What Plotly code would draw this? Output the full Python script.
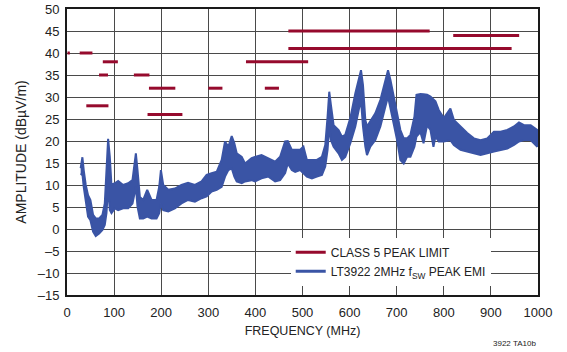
import plotly.graph_objects as go

# CLASS 5 peak limit segments (MHz, dBuV/m)
limit_start = [1, 27, 41, 68, 76, 142, 171, 174, 300, 380, 420, 470, 470, 820]
limit_stop = [6, 54, 88, 87, 108, 175, 245, 230, 330, 512, 450, 770, 944, 960]
limit_level = [40, 40, 28, 35, 38, 35, 26, 32, 32, 38, 32, 45, 41, 44]

# LT3922 peak EMI, read as upper / lower envelope of the noisy trace
emi_freq = [29, 32.7, 35.5, 39.8, 44.7, 49.7, 55.4, 61, 68.2, 75.2, 80.2, 83.8, 87.3, 90.9,
            94.4, 101.5, 108.6, 119.2, 129.9, 139, 142.6, 146.2, 149.7, 154.7, 161.8, 170.3,
            179.5, 190.1, 195.8, 199.4, 204.3, 215, 229, 243, 257, 271.6, 285.8, 296.5, 307,
            317.8, 328.4, 335.5, 342.6, 349.7, 355.3, 360.3, 371, 378, 392, 399, 413, 427.7,
            441.9, 452.5, 463.1, 468.8, 477.3, 484.4, 495, 502, 509.3, 520, 530.5, 541.2,
            548.3, 553.2, 556.8, 560.3, 566, 576.6, 583.7, 590.8, 601.5, 612.1, 619.2, 624.2,
            628.4, 633.4, 636.9, 644, 654.6, 665.3, 675.9, 681.6, 686.6, 693.7, 700.8, 707.8,
            714.9, 722, 729.1, 737.6, 742, 750.4, 757, 764.6, 771.7, 778, 782.3, 789.4, 800,
            814, 821.3, 835.5, 849.7, 863.9, 878, 892.2, 906.4, 920.6, 934.8, 949, 959.6,
            970.3, 984.4, 998.6]
emi_hi = [13.8, 16.3, 13.4, 10.0, 7.7, 6.6, 3.2, 2.4, 2.4, 3.2, 5.8, 13.4, 20.5, 16.4,
          10.0, 10.4, 10.9, 10.0, 10.4, 11.1, 14.9, 17.2, 13.4, 7.3, 6.6, 8.9,
          6.6, 6.6, 9.6, 13.4, 10.0, 8.9, 9.2, 10.0, 10.5, 10.0, 10.8, 12.3, 12.7,
          13.0, 15.7, 19.9, 18.7, 21.1, 19.5, 17.2, 16.4, 14.9, 16.1, 16.4, 16.8, 16.1,
          15.3, 16.4, 19.9, 20.0, 18.0, 18.0, 18.0, 18.7, 15.7, 15.7, 15.7, 16.4,
          19.1, 25.5, 31.2, 28.2, 23.6, 22.5, 21.0, 21.4, 25.2, 30.8, 34.2, 36.1,
          32.7, 24.8, 23.3, 24.4, 26.3, 29.3, 34.2, 36.1, 33.9, 30.1, 26.3, 22.5,
          20.6, 20.6, 21.4, 25.5, 30.5, 30.7, 30.6, 30.5, 30.1, 29.5, 29.0, 27.0, 25.2,
          27.4, 24.8, 23.3, 21.8, 20.6, 20.2, 20.6, 22.1, 22.1, 22.5, 23.3, 24.2,
          23.6, 23.6, 22.5]
emi_lo = [12.3, 12.6, 9.6, 6.2, 2.8, 2.0, -0.6, -1.6, -1.0, -0.2, 0.9, 3.6, 9.6, 4.3,
          3.6, 4.7, 4.3, 4.7, 4.7, 5.8, 7.3, 9.6, 5.1, 2.4, 2.4, 2.8,
          2.4, 2.4, 3.6, 5.8, 4.3, 4.0, 4.7, 5.8, 6.6, 6.2, 7.0, 7.4, 8.5,
          8.9, 9.6, 11.9, 13.4, 13.8, 11.9, 10.8, 10.4, 10.8, 11.1, 10.8, 11.5, 11.9,
          10.8, 11.1, 12.7, 14.9, 13.4, 13.0, 13.4, 12.7, 11.9, 11.5, 11.9, 12.3,
          14.2, 18.0, 23.3, 20.2, 18.7, 17.2, 15.7, 16.4, 19.5, 23.3, 27.0, 29.3,
          23.3, 18.7, 16.8, 18.7, 20.2, 23.3, 27.8, 30.1, 27.8, 24.0, 20.2, 15.7,
          14.9, 16.4, 16.4, 18.7, 21.0, 22.0, 19.5, 23.6, 22.5, 18.7, 21.0, 19.9, 19.9,
          20.2, 19.1, 18.0, 17.6, 17.2, 16.8, 17.2, 17.6, 18.0, 18.3, 19.1, 19.9,
          20.2, 20.2, 18.7]

x_ticks = [0, 100, 200, 300, 400, 500, 600, 700, 800, 900, 1000]
y_ticks = [50, 45, 40, 35, 30, 25, 20, 15, 10, 5, 0, -5, -10, -15]
y_tick_text = [str(v) if v >= 0 else "\u2013" + str(-v) for v in y_ticks]

RED = "#960a2d"
BLUE = "#3a54a5"
FONT = "Liberation Sans, Arial, sans-serif"

lim_x, lim_y = [], []
for a, b, lv in zip(limit_start, limit_stop, limit_level):
    lim_x += [a, b, None]
    lim_y += [lv, lv, None]

fig = go.Figure()
fig.add_trace(go.Scatter(
    x=emi_freq + emi_freq[::-1],
    y=emi_hi + emi_lo[::-1],
    fill="toself",
    fillcolor=BLUE,
    line=dict(color=BLUE, width=2),
    mode="lines",
    showlegend=False,
    hoverinfo="skip",
))
fig.add_trace(go.Scatter(
    x=lim_x, y=lim_y, mode="lines",
    line=dict(color=RED, width=3),
    name="CLASS 5 PEAK LIMIT",
))
# legend entry for the EMI trace
fig.add_trace(go.Scatter(
    x=[None], y=[None], mode="lines",
    line=dict(color=BLUE, width=3),
    name="LT3922 2MHz f<sub>SW</sub> PEAK EMI",
))

fig.update_xaxes(
    range=[0, 1000], tickvals=x_ticks, automargin=False,
    showgrid=True, gridcolor="#4a4a4a", gridwidth=1.3,
    showline=True, linecolor="#1a1a1a", linewidth=2, mirror=True,
    zeroline=False, ticks="", ticklabelstandoff=4,
    tickfont=dict(size=13),
    title=dict(text="FREQUENCY (MHz)", standoff=8, font=dict(size=12.5)),
)
fig.update_yaxes(
    range=[-15, 50], tickvals=y_ticks, ticktext=y_tick_text, automargin=False,
    showgrid=True, gridcolor="#4a4a4a", gridwidth=1.3,
    showline=True, linecolor="#1a1a1a", linewidth=2, mirror=True,
    zeroline=False, ticks="", ticklabelstandoff=3,
    tickfont=dict(size=13),
    title=dict(text="AMPLITUDE (dB\u00b5V/m)", standoff=8),
)
fig.update_layout(
    width=567, height=352,
    margin=dict(l=67, r=29, t=9, b=57),
    plot_bgcolor="white", paper_bgcolor="white",
    font=dict(family=FONT, size=12, color="#222222"),
    legend=dict(
        x=0.475, y=0.2, xanchor="left", yanchor="top",
        bgcolor="white", borderwidth=0,
        font=dict(size=12), tracegroupgap=0,
    ),
    annotations=[dict(
        text="3922 TA10b", xref="paper", yref="paper",
        x=1.0, y=-0.168, xanchor="right", yanchor="middle",
        showarrow=False, font=dict(size=8),
    )],
)

# the page's default body margin would shift the figure by 8px
fig.write_html(
    "out.html",
    config={"displayModeBar": False},
    post_script="document.body.style.margin='0';",
)
